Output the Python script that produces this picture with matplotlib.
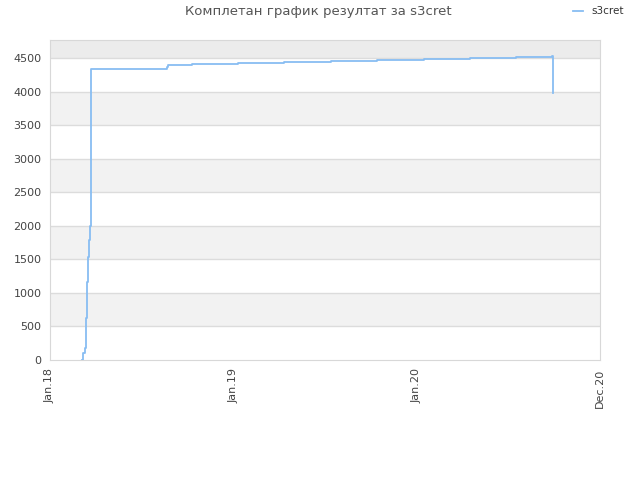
import datetime as dt

import matplotlib
matplotlib.use('Agg')
import matplotlib.pyplot as plt

# step series (days since Jan 1 2018, score)
days = [64, 66, 70, 72, 74, 76, 78, 79, 81, 233, 235, 282, 374, 466,
        559, 652, 745, 837, 929, 1000, 1002]
scores = [0, 100, 180, 620, 1160, 1540, 1790, 2000, 4340, 4370, 4400,
          4410, 4425, 4440, 4455, 4470, 4485, 4500, 4515, 4530, 3980]

tick_dates = ['2018-01-01', '2019-01-01', '2020-01-01', '2021-01-01']
tick_labels = ['Jan.18', 'Jan.19', 'Jan.20', 'Dec.20']
yticks = [0, 500, 1000, 1500, 2000, 2500, 3000, 3500, 4000, 4500]

start = dt.datetime(2018, 1, 1)
x = [start + dt.timedelta(days=d) for d in days]

fig = plt.figure(figsize=(6.4, 4.8), dpi=100)
ax = fig.add_axes([50 / 640, 120 / 480, 550 / 640, 320 / 480])

ymax = 4768
# alternating bands
for i, lo in enumerate(yticks):
    hi = yticks[i + 1] if i + 1 < len(yticks) else ymax
    if i == len(yticks) - 1:
        ax.axhspan(lo, hi, color='#ececec', zorder=0, lw=0)
    elif i % 2 == 1:
        ax.axhspan(lo, hi, color='#f2f2f2', zorder=0, lw=0)
for y in yticks[1:]:
    ax.axhline(y, color='#dcdcdc', lw=1, zorder=1)

ax.step(x, scores, where='post', color='#88bdf2', lw=1.3, zorder=3, label='s3cret')

xt = [dt.datetime.fromisoformat(s) for s in tick_dates]
ax.set_xlim(xt[0], xt[-1])
ax.set_ylim(0, ymax)
ax.set_xticks(xt)
ax.set_xticklabels(tick_labels, rotation=90)
ax.set_yticks(yticks)
ax.tick_params(length=0, labelsize=8, labelcolor='#444444', pad=6)

for sp in ax.spines.values():
    sp.set_color('#d8d8d8')

fig.text(318 / 640, 1 - 12 / 480, 'Комплетан график резултат за s3cret',
         ha='center', va='center', fontsize=9.5, color='#555555')
fig.legend(loc='upper right', bbox_to_anchor=(0.99, 1.006), frameon=False,
           fontsize=7.5, handlelength=1.0, handletextpad=0.8,
           labelcolor='#333333')

fig.savefig('out.png', dpi=100)
